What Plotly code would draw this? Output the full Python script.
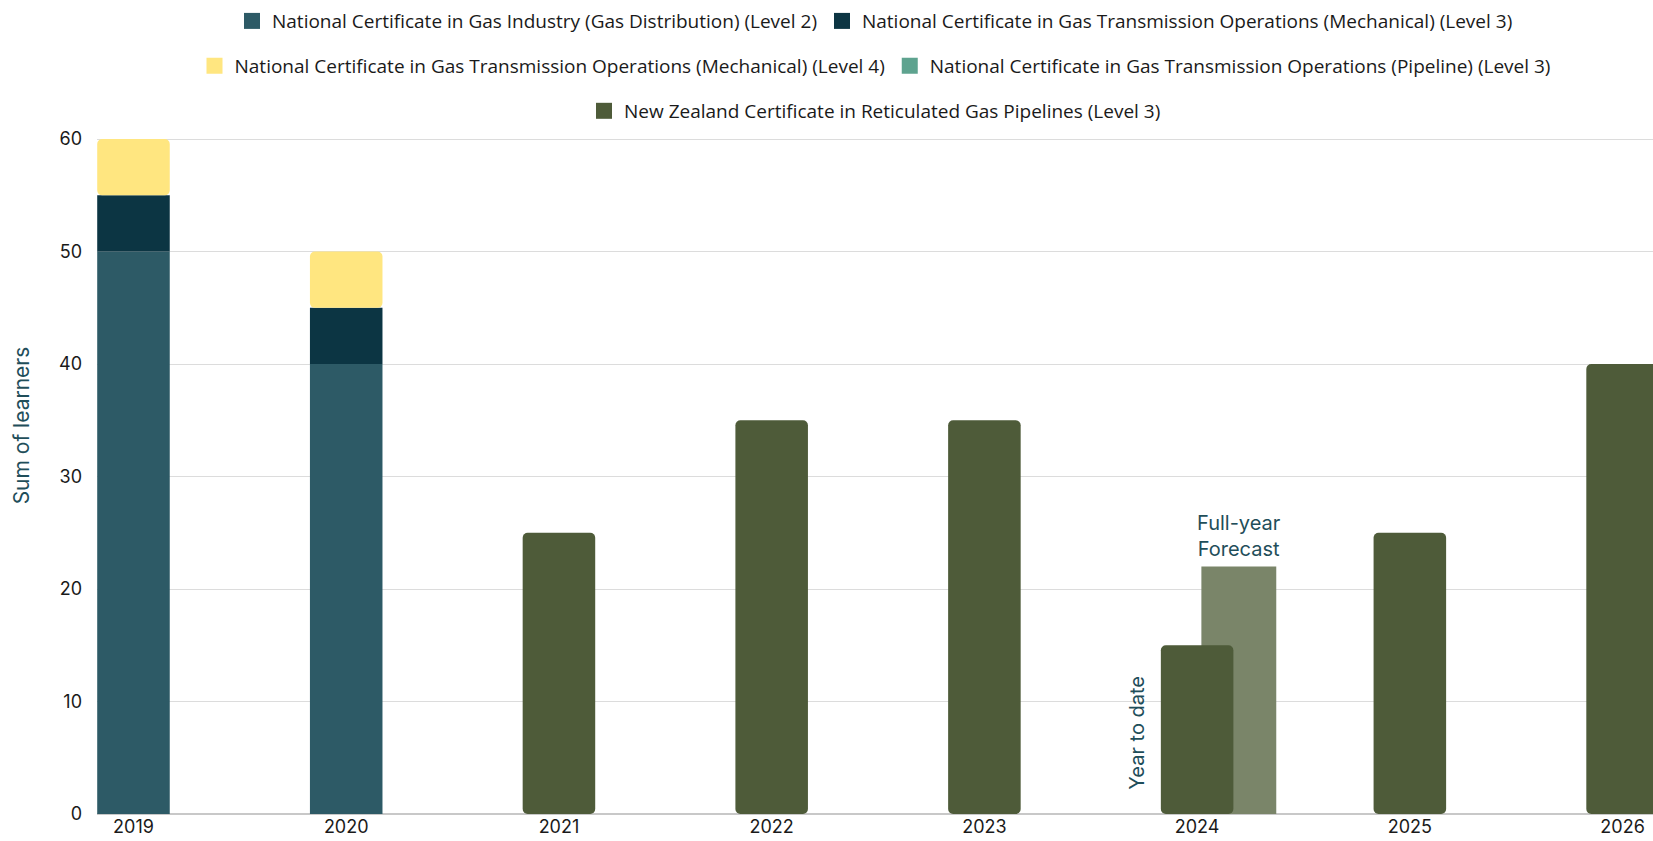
import plotly.graph_objects as go

years = [2019, 2020, 2021, 2022, 2023, 2024, 2025, 2026]
year_labels = ["2019", "2020", "2021", "2022", "2023", "2024", "2025", "2026"]

gas_dist_l2 = [50, 40, None, None, None, None, None, None]
trans_mech_l3 = [5, 5, None, None, None, None, None, None]
trans_mech_l4 = [5, 5, None, None, None, None, None, None]
trans_pipe_l3 = [None, None, None, None, None, None, None, None]
nz_reticulated_l3 = [None, None, 25, 35, 35, 15, 25, 40]

forecast_year = [2024]
forecast_value = [22]

names = {
    "l2": "National Certificate in Gas Industry (Gas Distribution) (Level 2)",
    "m3": "National Certificate in Gas Transmission Operations (Mechanical) (Level 3)",
    "m4": "National Certificate in Gas Transmission Operations (Mechanical) (Level 4)",
    "p3": "National Certificate in Gas Transmission Operations (Pipeline) (Level 3)",
    "nz": "New Zealand Certificate in Reticulated Gas Pipelines (Level 3)",
}
colors = {
    "l2": "#2d5a66",
    "m3": "#0c3543",
    "m4": "#ffe680",
    "p3": "#5ea38f",
    "nz": "#4e5b39",
    "fc": "#7a8569",
}

BW = 0.341

base_m3 = [v if v is not None else 0 for v in gas_dist_l2]
base_m4 = [(a or 0) + (b or 0) for a, b in zip(gas_dist_l2, trans_mech_l3)]

fig = go.Figure()
# bars (legend handled by swatch traces below)
fig.add_trace(go.Bar(x=years, y=gas_dist_l2, base=0, width=BW, name=names["l2"], showlegend=False,
                     legendgroup="l2", marker=dict(color=colors["l2"], cornerradius=0, line=dict(width=0))))
fig.add_trace(go.Bar(x=years, y=trans_mech_l3, base=base_m3, width=BW, name=names["m3"], showlegend=False,
                     legendgroup="m3", marker=dict(color=colors["m3"], cornerradius=0, line=dict(width=0))))
fig.add_trace(go.Bar(x=years, y=trans_mech_l4, base=base_m4, width=BW, name=names["m4"], showlegend=False,
                     legendgroup="m4", marker=dict(color=colors["m4"], cornerradius=5, line=dict(width=0))))
fig.add_trace(go.Bar(x=years, y=trans_pipe_l3, width=BW, name=names["p3"], showlegend=False,
                     legendgroup="p3", marker=dict(color=colors["p3"], cornerradius=0, line=dict(width=0))))
fig.add_trace(go.Bar(x=forecast_year, y=forecast_value, base=0, width=0.352, offset=0.02,
                     name="Full-year Forecast", showlegend=False,
                     marker=dict(color=colors["fc"], cornerradius=0, line=dict(width=0))))
fig.add_trace(go.Bar(x=years, y=nz_reticulated_l3, base=0, width=BW, name=names["nz"], showlegend=False,
                     legendgroup="nz", marker=dict(color=colors["nz"], cornerradius=5, line=dict(width=0))))

# legend swatches
for key, leg in [("l2", "legend"), ("m3", "legend"), ("m4", "legend2"), ("p3", "legend2"), ("nz", "legend3")]:
    fig.add_trace(go.Scatter(x=[None], y=[None], mode="markers", name=names[key], legendgroup=key,
                             legend=leg, showlegend=True,
                             marker=dict(symbol="square", size=16, color=colors[key], line=dict(width=0))))

legend_common = dict(orientation="h", xanchor="center", x=0.5, yanchor="middle",
                     font=dict(family="Open Sans", size=19, color="#1a1a1a"),
                     bgcolor="rgba(0,0,0,0)", traceorder="normal", itemsizing="trace")

fig.update_layout(
    width=1653, height=841,
    margin=dict(l=97, r=0, t=138, b=27, autoexpand=False),
    plot_bgcolor="white", paper_bgcolor="white",
    barmode="overlay",
    legend=dict(legend_common, y=1.173),
    legend2=dict(legend_common, y=1.1065),
    legend3=dict(legend_common, y=1.040),
    xaxis=dict(range=[2018.8285, 2026.143], tickmode="array", tickvals=years, ticktext=year_labels,
               showgrid=False, zeroline=False, showline=False, ticks="",
               tickfont=dict(family="Inter", size=18, color="#1a1a1a")),
    yaxis=dict(range=[0, 60.1], tickmode="array", tickvals=[0, 10, 20, 30, 40, 50, 60],
               showgrid=True, gridcolor="#dcdcdc", gridwidth=1,
               zeroline=True, zerolinecolor="#c8c8c8", zerolinewidth=1.5,
               showline=False, ticks="", ticklabelstandoff=14,
               tickfont=dict(family="Inter", size=18, color="#1a1a1a")),
    showlegend=True,
)

fig.add_annotation(text="Sum of learners", textangle=-90, xref="paper", yref="paper",
                   x=-0.0488, y=0.575, xanchor="center", yanchor="middle",
                   showarrow=False, font=dict(family="Inter", size=21, color="#1f4e5a"))
fig.add_annotation(text="Year to date", textangle=-90, x=2023.716, y=7.2, xref="x", yref="y",
                   showarrow=False, font=dict(family="Inter", size=20, color="#1f4e5a"))
fig.add_annotation(text="Full-year<br>Forecast", x=2024.195, y=24.7, xref="x", yref="y",
                   showarrow=False, font=dict(family="Inter", size=20, color="#1f4e5a"))

fig.write_html("out.html", config={"displayModeBar": False},
               post_script="document.body.style.margin='0';document.body.style.overflow='hidden';")
